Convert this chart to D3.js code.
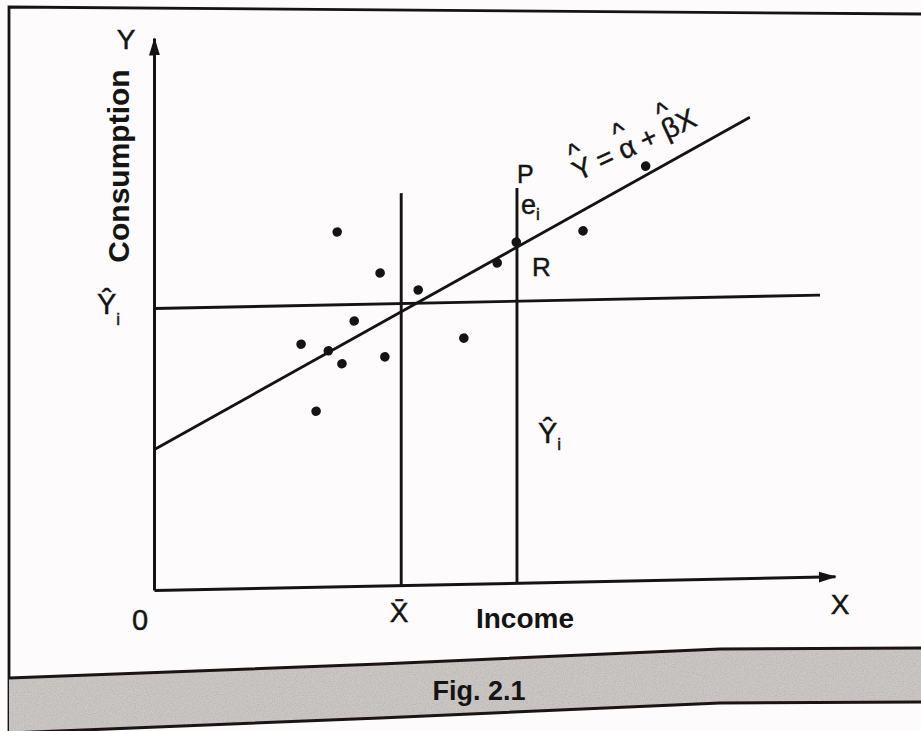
<!DOCTYPE html>
<html><head><meta charset="utf-8">
<script src="https://cdn.jsdelivr.net/npm/d3@7"></script>
<style>
html,body{margin:0;padding:0;background:#fdfbfb;}
svg{display:block;}
text{font-family:"Liberation Sans",Arial,Helvetica,sans-serif;fill:#141414;}
text.reg{stroke:#141414;stroke-width:0.45px;}
</style>
</head><body>
<svg id="c" width="921" height="731"></svg>
<script>
// ---- data (arbitrary units 0..100) ----
const obsX = [26.9, 33.2, 38.8, 29.4, 21.6, 25.6, 27.6, 33.9, 23.8, 45.5, 50.4, 53.2, 63.0, 72.2];
const obsY = [64.2, 56.6, 53.4, 48.0, 44.0, 42.7, 40.3, 41.4, 31.8, 44.5, 58.0, 61.7, 63.5, 75.0];
const alphaHat = 25.4;          // intercept of fitted line
const betaHat = 0.664;          // slope of fitted line
const fitXRange = [0, 87.5];
const xMean = 36.3;             // X-bar
const xI = 53.3;                // X_i of point P/R
const vLineTops = [71.0, 71.5]; // tops of the two vertical guide lines
const yHatLevel = 51.0;         // horizontal guide level
const hLineEnd = 97.8;
const axisMax = [100, 100];

const svg = d3.select("#c");
const ink = "#141414";

const x = d3.scaleLinear().domain([0, axisMax[0]]).range([154, 835]);
const y = d3.scaleLinear().domain([0, axisMax[1]]).range([590, 38]);

// defs: arrow marker + grain
const defs = svg.append("defs");
defs.append("marker").attr("id", "arrow").attr("markerUnits", "userSpaceOnUse")
  .attr("viewBox", "0 -6 18 12").attr("refX", 17).attr("refY", 0)
  .attr("markerWidth", 18).attr("markerHeight", 12).attr("orient", "auto")
  .append("path").attr("d", "M0,-5.5L18,0L0,5.5Z").attr("fill", ink);
const f = defs.append("filter").attr("id", "grain")
  .attr("x", 0).attr("y", 0).attr("width", 1).attr("height", 1);
f.append("feTurbulence").attr("type", "fractalNoise").attr("baseFrequency", 0.9)
  .attr("numOctaves", 2).attr("seed", 5);
f.append("feColorMatrix").attr("type", "matrix")
  .attr("values", "0 0 0 0 0.45  0 0 0 0 0.43  0 0 0 0 0.43  1.6 0 0 0 -0.62");
f.append("feComposite").attr("in2", "SourceGraphic").attr("operator", "in");

// frame
svg.append("path").attr("d", "M9,731V7L921,14").attr("fill", "none")
  .attr("stroke", ink).attr("stroke-width", 2.8);

// caption band
const bandTop = [[9, 678], [380, 664], [720, 649], [921, 648]];
const bandBot = [[9, 733], [380, 718], [720, 703], [921, 702]];
const bandPoly = bandTop.concat(bandBot.slice().reverse());
svg.append("polygon").attr("points", bandPoly.join(" ")).attr("fill", "#cbc7c5");
svg.append("polygon").attr("points", bandPoly.join(" ")).attr("fill", "#888").attr("filter", "url(#grain)");
const lg = d3.line();
svg.append("path").attr("d", lg(bandTop)).attr("fill", "none").attr("stroke", "#1c1414").attr("stroke-width", 3);
svg.append("path").attr("d", lg(bandBot)).attr("fill", "none").attr("stroke", "#1c1414").attr("stroke-width", 3);

// plot group with the slight scan skew
const k = -0.02;
const g = svg.append("g").attr("transform", `matrix(1,${k},0,1,0,${-154 * k})`);

// axes
const xAxis = g.append("g").attr("transform", `translate(0,${y(0)})`)
  .call(d3.axisBottom(x).tickValues([]).tickSizeOuter(0));
const yAxis = g.append("g").attr("transform", `translate(${x(0)},0)`)
  .call(d3.axisLeft(y).tickValues([]).tickSizeOuter(0));
[xAxis, yAxis].forEach(a => a.select(".domain").attr("stroke", ink)
  .attr("stroke-width", 3).attr("marker-end", "url(#arrow)"));

const lineStyle = s => s.attr("fill", "none").attr("stroke", ink).attr("stroke-width", 2.9);

// horizontal guide
g.append("path").attr("d", d3.line()([[x(0), y(yHatLevel)], [x(hLineEnd), y(yHatLevel)]])).call(lineStyle);
// vertical guides
[xMean, xI].forEach((v, i) => {
  g.append("path").attr("d", d3.line()([[x(v), y(0)], [x(v), y(vLineTops[i])]])).call(lineStyle);
});
// fitted line
g.append("path").attr("d", d3.line().x(d => x(d)).y(d => y(alphaHat + betaHat * d))(fitXRange)).call(lineStyle);
// observations
g.selectAll("circle.obs").data(obsX.map((v, i) => [v, obsY[i]])).join("circle")
  .attr("class", "obs").attr("cx", d => x(d[0])).attr("cy", d => y(d[1]))
  .attr("r", 4.8).attr("fill", ink);

// ---- labels ----
const addHat = (t, charIdx, baseY, size) => {
  const e = t.node().getExtentOfChar(charIdx);
  t.append("tspan").attr("x", e.x + e.width / 2).attr("y", baseY - 0.66 * size)
    .attr("font-size", size * 0.95).attr("text-anchor", "middle").text("^");
};
const T = (tx, ty, str, size, opts = {}) => {
  const t = svg.append("text").attr("x", tx).attr("y", ty).attr("font-size", size)
    .attr("text-anchor", opts.anchor || "start");
  if (opts.bold) t.attr("font-weight", "bold"); else t.attr("class", "reg");
  if (opts.sub) {
    t.append("tspan").text(str);
    t.append("tspan").attr("font-size", opts.subSize || 17).attr("dy", opts.subDy || 7).text(opts.sub);
  } else t.text(str);
  return t;
};
T(126, 49, "Y", 28, {anchor: "middle"});
svg.append("text").attr("transform", "translate(129,166) rotate(-90)")
  .attr("text-anchor", "middle").attr("font-size", 30).attr("font-weight", "bold").text("Consumption");
T(97, 314, "Ŷ", 29, {sub: "i", subDy: 11});
T(517, 183, "P", 25);
T(521, 214, "e", 27, {sub: "i", subDy: 6});
T(532, 276, "R", 26);
T(538, 443, "Ŷ", 29, {sub: "i", subDy: 7});
T(140, 630, "0", 29, {anchor: "middle"});
T(x(xMean) - 2, 622, "X\u0304", 28, {anchor: "middle"});
T(525, 628, "Income", 28, {anchor: "middle", bold: true});
T(840, 614, "X", 28, {anchor: "middle"});

// fitted-line equation, laid along the line with detached hats
const eqSize = 28;
const eqG = svg.append("g").attr("transform", "translate(634,144) rotate(-25)");
const eq = eqG.append("text").attr("class", "reg").attr("font-size", eqSize)
  .attr("y", 0.36 * eqSize);
eq.append("tspan").text("Y = α + βX");
const eqW = eq.node().getComputedTextLength();
eq.attr("x", -eqW / 2);
[0, 4, 8].forEach(i => addHat(eq, i, 0.36 * eqSize, eqSize));

T(479, 700, "Fig. 2.1", 27, {anchor: "middle", bold: true});
</script>
</body></html>
